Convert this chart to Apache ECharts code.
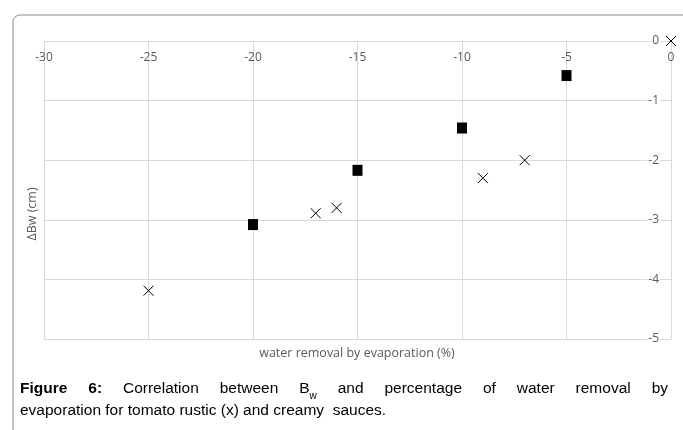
<!DOCTYPE html>
<html>
<head>
<meta charset="utf-8">
<script src="https://cdn.jsdelivr.net/npm/echarts@6/dist/echarts.min.js"></script>
<style>
html,body{margin:0;padding:0;background:#fff;}
#c{width:683px;height:430px;}
</style>
</head>
<body>
<div id="c"></div>
<script>
// ---- data ----
const creamyX = [-20, -15, -10, -5];
const creamyY = [-3.08, -2.17, -1.46, -0.58];
const rusticX = [-25, -17, -16, -9, -7, 0];
const rusticY = [-4.19, -2.89, -2.80, -2.30, -2.00, 0];
const xTitle = 'water removal by evaporation (%)';
const yTitle = '\u0394Bw (cm)';
const captionLine1 = ['Figure', '6:', 'Correlation', 'between', 'B', 'and', 'percentage', 'of', 'water', 'removal', 'by'];
const captionLine2 = 'evaporation for tomato rustic (x) and creamy  sauces.';

// ---- layout helpers ----
const capFont = '15.5px "Liberation Sans", Arial, sans-serif';
const capBold = 'bold 15.5px "Liberation Sans", Arial, sans-serif';
const cv = document.createElement('canvas').getContext('2d');
function w(text, font) { cv.font = font; return cv.measureText(text).width; }
const subFont = '10px "Liberation Sans", Arial, sans-serif';
const words = captionLine1.map((t, i) => {
  const bold = i < 2;
  let width = w(t, bold ? capBold : capFont);
  if (t === 'B') width += w('w', subFont);
  return { t, bold, width };
});
const lineL = 20, lineR = 668;
const total = words.reduce((s, o) => s + o.width, 0);
const gap = (lineR - lineL - total) / (words.length - 1);
const graphics = [];
let cx = lineL;
const y1 = 390, y2 = 412;
words.forEach(o => {
  graphics.push({
    type: 'text', left: cx, top: y1 - 9,
    style: { text: o.t, font: o.bold ? capBold : capFont, fill: '#000' }
  });
  if (o.t === 'B') {
    graphics.push({
      type: 'text', left: cx + w('B', capFont), top: y1 + 1,
      style: { text: 'w', font: subFont, fill: '#000' }
    });
  }
  cx += o.width + gap;
});
graphics.push({
  type: 'text', left: lineL, top: y2 - 9,
  style: { text: captionLine2, font: capFont, fill: '#000' }
});
// frame
graphics.push({
  type: 'rect', left: 10.5, top: 12.5, z: -1,
  shape: { x: 0, y: 0, width: 720, height: 500, r: 7 },
  style: { fill: 'none', stroke: '#8a8a8a', lineWidth: 1 }
});
// axis titles
graphics.push({
  type: 'text', x: 357, y: 353,
  style: { text: xTitle, font: '12.5px "Open Sans", sans-serif', fill: '#595959', align: 'center', verticalAlign: 'middle' }
});
graphics.push({
  type: 'text', x: 32, y: 214, rotation: Math.PI / 2,
  style: { text: yTitle, font: '12.5px "Open Sans", sans-serif', fill: '#595959', align: 'center', verticalAlign: 'middle' }
});

const chart = echarts.init(document.getElementById('c'), null, { renderer: 'canvas' });
chart.setOption({
  animation: false,
  backgroundColor: '#fff',
  grid: { left: 44, right: 12, top: 41, bottom: 91 },
  xAxis: {
    type: 'value', min: -30, max: 0, interval: 5, position: 'top',
    axisLine: { show: false },
    axisTick: { show: false },
    axisLabel: { inside: true, margin: 11, color: '#595959', fontSize: 12, fontFamily: 'Open Sans' },
    splitLine: { show: true, lineStyle: { color: '#d9d9d9', width: 1 } }
  },
  yAxis: {
    type: 'value', min: -5, max: 0, interval: 1, position: 'right',
    axisLine: { show: true, lineStyle: { color: '#d9d9d9' } },
    axisTick: { show: false },
    axisLabel: { inside: true, margin: 11, color: '#595959', fontSize: 12, fontFamily: 'Open Sans',
      backgroundColor: '#fff', padding: [0, 1] },
    splitLine: { show: true, lineStyle: { color: '#d9d9d9', width: 1 } }
  },
  series: [
    {
      name: 'creamy', type: 'scatter', symbol: 'rect', symbolSize: [10, 11],
      itemStyle: { color: '#000', opacity: 1 },
      data: creamyX.map((x, i) => [x, creamyY[i]]), z: 3
    },
    {
      name: 'rustic', type: 'scatter', symbol: 'path://M0,0L10,10M10,0L0,10', symbolSize: 10,
      itemStyle: { color: 'none', borderColor: '#000', borderWidth: 1, opacity: 1 },
      data: rusticX.map((x, i) => [x, rusticY[i]]), z: 4
    }
  ],
  graphic: graphics
});
</script>
</body>
</html>
